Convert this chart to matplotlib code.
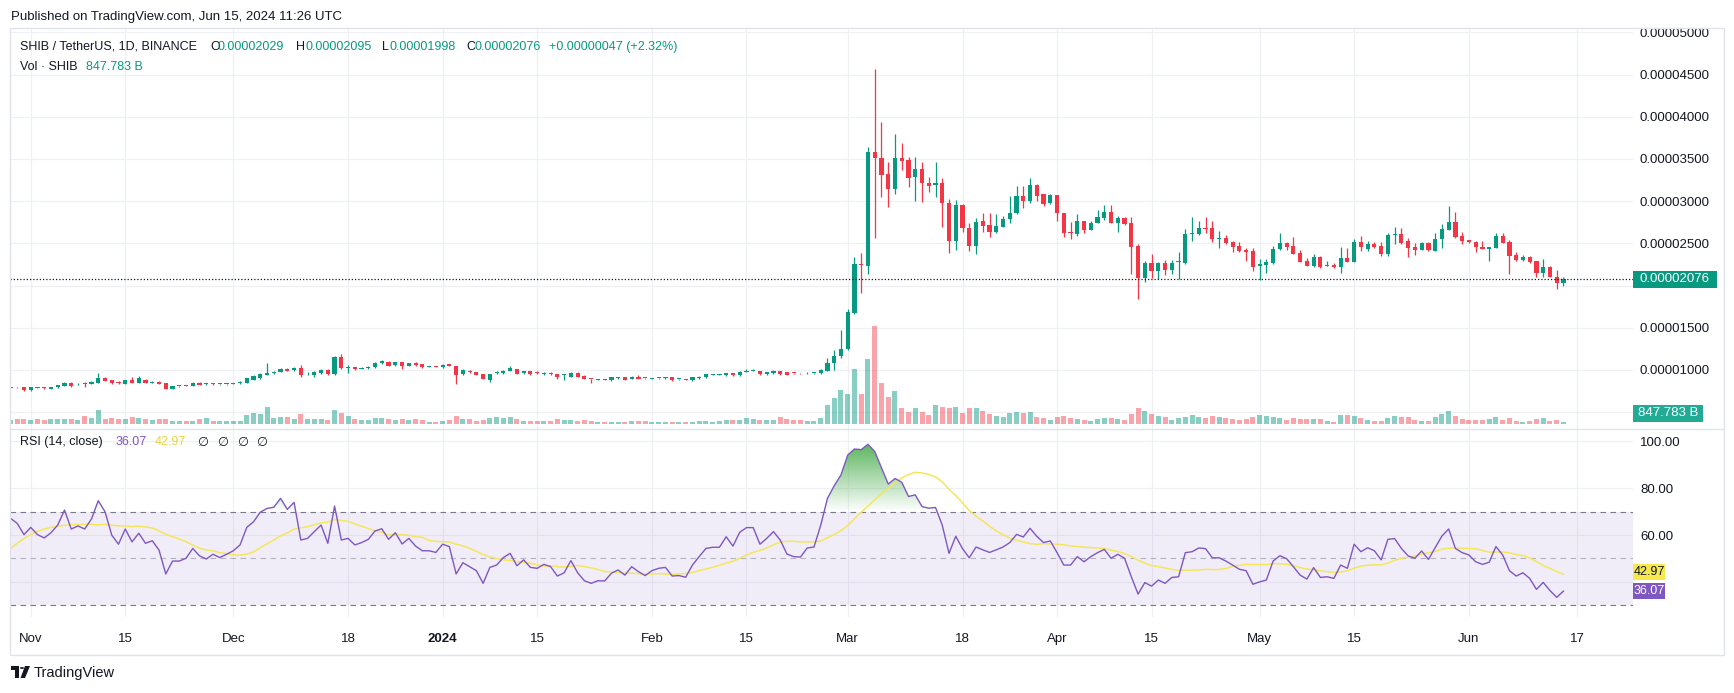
import numpy as np
import pandas as pd
import matplotlib
matplotlib.use("Agg")
import matplotlib.pyplot as plt
import matplotlib.dates as mdates
import matplotlib.transforms as mtransforms
from matplotlib.path import Path
from matplotlib.patches import PathPatch, Rectangle, Circle, Polygon
from matplotlib.lines import Line2D

plt.rcParams['font.family'] = ['Liberation Sans', 'DejaVu Sans']

# ---------------- data ----------------
published_text = "Published on TradingView.com, Jun 15, 2024 11:26 UTC"
symbol_text = "SHIB / TetherUS, 1D, BINANCE"
volume_title = "Vol \u00b7 SHIB"
rsi_title = "RSI (14, close)"
first_day = "2023-10-29"
price_unit = 1e-6          # prices below are in units of 0.000001 USDT

open_e6 = [
    7.90, 7.94, 7.92, 7.62, 7.94, 7.88, 7.76, 7.94, 8.15, 8.49,
    8.28, 8.40, 8.33, 8.45, 9.05, 8.81, 8.49, 8.33, 8.81, 8.49,
    8.81, 8.49, 8.61, 8.41, 7.78, 8.08, 8.10, 8.13, 8.49, 8.30,
    8.31, 8.29, 8.31, 8.37, 8.41, 8.49, 8.81, 9.00, 9.42, 9.65,
    9.77, 10.16, 9.96, 10.19, 9.58, 9.42, 9.61, 10.00, 9.49, 11.48,
    10.25, 10.31, 10.16, 10.19, 10.31, 10.78, 10.97, 10.54, 10.89, 10.47,
    10.86, 10.66, 10.37, 10.40, 10.31, 10.70, 10.47, 9.49, 9.92, 9.73,
    9.53, 8.83, 9.65, 9.61, 9.92, 10.12, 9.61, 9.88, 9.63, 9.49,
    9.69, 9.53, 9.40, 9.22, 9.69, 9.30, 8.93, 8.81, 8.85, 8.75,
    9.01, 9.11, 8.91, 9.22, 9.05, 8.93, 9.01, 9.01, 9.11, 8.89,
    8.85, 8.75, 9.01, 9.11, 9.40, 9.40, 9.34, 9.61, 9.34, 9.79,
    9.86, 9.88, 9.49, 9.61, 9.88, 9.73, 9.65, 9.62, 9.58, 9.60,
    9.60, 9.91, 10.78, 11.64, 12.43, 16.70, 22.54, 22.31, 35.78, 35.06,
    33.21, 31.39, 35.14, 34.87, 32.81, 33.80, 32.18, 31.90, 32.18, 29.81,
    25.31, 29.53, 26.77, 24.68, 27.64, 27.17, 26.38, 26.97, 27.88, 28.55,
    30.60, 30.05, 31.90, 30.80, 29.73, 30.72, 28.55, 26.38, 26.10, 27.60,
    26.62, 27.37, 28.04, 28.67, 27.37, 27.96, 27.44, 24.68, 20.93, 22.63,
    21.76, 22.63, 21.84, 22.74, 22.63, 26.10, 26.10, 26.85, 26.85, 25.55,
    25.59, 25.19, 24.68, 24.21, 24.09, 22.31, 22.43, 22.63, 24.29, 25.08,
    24.68, 23.81, 22.94, 22.31, 23.42, 22.35, 22.43, 22.15, 23.22, 22.82,
    25.19, 24.32, 24.92, 24.72, 23.73, 25.98, 26.10, 25.27, 24.60, 24.21,
    25.08, 24.13, 25.47, 26.58, 27.48, 25.87, 25.39, 25.19, 24.60, 24.29,
    24.48, 25.87, 25.19, 23.61, 23.02, 23.42, 22.90, 21.52, 22.15, 21.05, 20.29,
]
high_e6 = [
    7.98, 8.00, 7.98, 8.00, 8.02, 7.95, 7.98, 8.25, 8.55, 8.52,
    8.40, 8.61, 8.66, 9.67, 9.15, 8.85, 8.70, 8.85, 9.20, 9.28,
    8.90, 8.70, 8.66, 8.45, 8.15, 8.15, 8.16, 8.53, 8.55, 8.42,
    8.40, 8.38, 8.36, 8.45, 8.66, 9.05, 9.35, 9.60, 10.78, 9.85,
    10.20, 10.25, 10.35, 10.58, 9.80, 9.85, 10.05, 10.05, 11.60, 11.87,
    10.58, 10.35, 10.30, 10.45, 10.90, 11.15, 11.00, 10.97, 10.93, 10.86,
    10.89, 10.70, 10.45, 10.43, 10.70, 10.74, 10.50, 10.05, 9.96, 9.77,
    9.57, 9.57, 9.85, 9.96, 10.47, 10.16, 9.92, 9.92, 9.92, 9.73,
    9.73, 9.57, 9.49, 9.73, 9.73, 9.34, 8.95, 8.90, 8.89, 9.15,
    9.15, 9.15, 9.26, 9.42, 9.08, 9.01, 9.08, 9.11, 9.15, 8.97,
    8.89, 9.15, 9.26, 9.53, 9.53, 9.53, 9.65, 9.65, 9.85, 10.08,
    10.08, 9.92, 9.77, 9.96, 9.92, 9.77, 9.69, 9.65, 9.70, 9.68,
    10.05, 11.37, 12.36, 14.72, 17.17, 23.41, 23.89, 36.37, 45.65, 39.41,
    34.67, 37.95, 36.84, 35.26, 35.18, 34.67, 32.89, 34.67, 32.69, 30.21,
    30.13, 29.60, 27.36, 27.96, 28.55, 28.55, 28.47, 28.27, 30.60, 31.79,
    31.79, 32.69, 32.00, 30.90, 30.80, 30.72, 28.55, 27.56, 28.50, 27.68,
    27.60, 28.95, 29.54, 29.54, 28.24, 28.08, 28.08, 24.92, 22.90, 23.73,
    22.82, 23.02, 23.02, 24.01, 26.69, 28.08, 27.64, 28.08, 27.64, 26.50,
    25.98, 25.31, 25.19, 24.40, 24.48, 23.10, 23.10, 24.68, 26.26, 25.19,
    25.71, 24.21, 23.22, 23.73, 23.49, 22.90, 22.63, 24.60, 24.40, 25.47,
    25.87, 25.27, 25.11, 25.11, 26.18, 26.89, 26.77, 25.59, 25.00, 25.19,
    25.19, 26.26, 27.29, 29.42, 28.75, 26.30, 25.39, 25.31, 25.31, 24.60,
    26.26, 26.26, 25.39, 24.01, 23.61, 23.49, 22.90, 23.10, 22.31, 21.84, 20.95,
]
low_e6 = [
    7.85, 7.88, 7.55, 7.55, 7.82, 7.76, 7.70, 7.90, 8.05, 7.98,
    8.20, 8.02, 8.28, 8.40, 8.65, 8.35, 8.30, 8.28, 8.45, 8.45,
    8.45, 8.45, 8.28, 7.70, 7.74, 8.02, 8.04, 8.10, 8.18, 8.22,
    8.20, 8.20, 8.27, 8.33, 8.38, 8.45, 8.78, 8.95, 9.38, 9.55,
    9.73, 9.88, 9.92, 9.14, 9.45, 9.14, 9.55, 9.45, 9.45, 10.10,
    9.61, 10.00, 10.10, 10.15, 10.27, 10.74, 10.43, 10.50, 10.08, 10.43,
    10.50, 10.27, 10.32, 10.33, 10.27, 10.43, 8.33, 9.45, 9.69, 9.38,
    8.87, 8.56, 9.50, 9.57, 9.88, 9.49, 9.57, 9.45, 9.49, 9.45,
    9.42, 8.95, 8.75, 9.18, 9.18, 8.87, 8.44, 8.77, 8.77, 8.73,
    8.97, 8.79, 8.87, 8.91, 8.97, 8.89, 8.97, 8.97, 8.71, 8.85,
    8.77, 8.71, 8.97, 9.08, 9.36, 9.36, 9.30, 9.30, 9.30, 9.75,
    9.82, 9.45, 9.45, 9.57, 9.45, 9.38, 9.57, 9.55, 9.55, 9.55,
    9.55, 9.88, 9.99, 11.37, 12.40, 16.60, 19.07, 21.32, 25.59, 30.52,
    29.26, 30.84, 33.68, 31.63, 30.05, 29.93, 31.12, 30.52, 26.97, 23.81,
    24.20, 26.38, 24.12, 23.73, 26.38, 25.78, 26.18, 26.89, 27.44, 28.47,
    29.14, 29.81, 30.05, 29.46, 29.70, 27.68, 25.70, 25.47, 25.90, 26.26,
    26.55, 27.36, 27.76, 27.37, 26.38, 27.20, 21.36, 18.36, 20.45, 20.93,
    20.77, 21.24, 21.36, 20.77, 22.51, 25.27, 25.98, 26.18, 25.19, 24.40,
    24.92, 24.01, 23.93, 22.90, 21.76, 20.65, 21.52, 22.55, 24.21, 24.21,
    23.73, 22.82, 22.31, 22.15, 22.03, 22.31, 22.03, 21.52, 22.82, 22.82,
    24.13, 24.13, 24.40, 23.54, 23.54, 24.92, 24.92, 23.42, 23.61, 24.21,
    24.13, 24.13, 24.40, 26.58, 25.59, 24.92, 24.99, 24.01, 24.29, 22.90,
    24.48, 24.99, 21.36, 22.90, 22.94, 22.71, 21.05, 21.05, 20.97, 19.59, 19.98,
]
close_e6 = [
    7.94, 7.92, 7.62, 7.94, 7.88, 7.82, 7.94, 8.21, 8.49, 8.05,
    8.33, 8.33, 8.61, 9.08, 8.73, 8.41, 8.45, 8.81, 8.49, 9.00,
    8.49, 8.61, 8.33, 7.78, 8.10, 8.10, 8.08, 8.49, 8.21, 8.33,
    8.29, 8.30, 8.33, 8.41, 8.61, 9.00, 9.28, 9.48, 9.69, 9.73,
    10.12, 9.92, 10.27, 9.42, 9.65, 9.81, 10.00, 9.49, 11.56, 10.19,
    10.31, 10.08, 10.20, 10.39, 10.86, 11.09, 10.47, 10.93, 10.47, 10.82,
    10.54, 10.31, 10.40, 10.37, 10.62, 10.47, 9.42, 10.00, 9.73, 9.42,
    8.91, 9.53, 9.69, 9.92, 10.19, 9.53, 9.88, 9.49, 9.59, 9.69,
    9.46, 9.11, 9.44, 9.69, 9.22, 8.91, 8.89, 8.85, 8.81, 9.11,
    9.05, 8.83, 9.22, 8.95, 9.01, 8.97, 9.05, 9.05, 8.75, 8.93,
    8.81, 9.11, 9.22, 9.49, 9.44, 9.44, 9.61, 9.34, 9.81, 9.83,
    9.90, 9.49, 9.73, 9.92, 9.49, 9.42, 9.61, 9.58, 9.65, 9.64,
    9.99, 10.78, 11.64, 12.43, 16.82, 22.54, 22.40, 35.78, 35.06, 33.09,
    31.39, 35.06, 34.79, 32.77, 33.80, 32.10, 31.83, 32.10, 29.81, 25.31,
    29.53, 26.77, 24.68, 27.56, 27.09, 26.38, 27.05, 27.88, 28.55, 30.60,
    30.05, 31.90, 30.64, 29.65, 30.72, 28.55, 26.26, 26.20, 27.60, 26.62,
    27.40, 28.10, 28.67, 27.37, 27.96, 27.29, 24.60, 20.93, 22.63, 21.76,
    22.63, 21.84, 22.63, 22.90, 26.06, 26.26, 26.77, 26.66, 25.51, 25.59,
    25.00, 24.60, 24.09, 24.01, 22.15, 22.55, 22.82, 24.29, 25.08, 24.52,
    23.73, 22.82, 22.31, 23.34, 22.15, 22.43, 22.15, 23.22, 22.82, 25.19,
    24.52, 24.92, 24.60, 23.73, 25.98, 26.10, 25.08, 24.48, 24.21, 25.08,
    24.21, 25.47, 26.66, 27.48, 25.71, 25.31, 25.11, 24.52, 24.29, 24.60,
    25.87, 25.08, 23.49, 23.02, 23.42, 22.82, 21.52, 22.15, 20.97, 20.29, 20.76,
]
volume_bn = [
    1600, 2000, 2120, 1600, 2120, 1600, 1880, 2120, 2120, 2120,
    1600, 3200, 2400, 5600, 2120, 2400, 2120, 1880, 2680, 2400,
    1880, 1600, 1880, 2120, 1320, 1080, 1320, 1320, 1880, 2400,
    1320, 1320, 1080, 1320, 1320, 3480, 4280, 4000, 6680, 2400,
    2680, 2680, 2000, 4000, 2000, 2000, 2000, 1600, 5600, 4280,
    3200, 1880, 1600, 1600, 2280, 2280, 2000, 1600, 1880, 1600,
    1880, 1600, 800, 800, 1320, 1600, 3200, 1880, 1880, 1080,
    1600, 2400, 2920, 2400, 2680, 1880, 1080, 1320, 1320, 1320,
    1320, 1880, 1600, 1600, 1320, 1600, 1320, 800, 800, 800,
    800, 800, 1200, 1200, 1200, 800, 800, 800, 800, 800,
    800, 800, 1200, 1200, 800, 1200, 1600, 1600, 1600, 2400,
    2000, 1600, 1600, 1600, 2680, 1880, 1440, 1600, 1200, 1200,
    2280, 7600, 10280, 13600, 12000, 22000, 12000, 25880, 39200, 16280,
    10680, 13200, 6280, 4920, 6280, 4680, 3600, 7600, 6680, 6280,
    6680, 4400, 6280, 6280, 5200, 4000, 3200, 2680, 4520, 4920,
    4520, 4800, 2680, 2280, 1600, 2920, 3200, 2400, 2000, 1600,
    1320, 2000, 2400, 2400, 2000, 1600, 4000, 6400, 5320, 4000,
    3200, 2680, 1600, 2400, 2920, 3600, 2920, 2400, 3200, 2920,
    2400, 2000, 1600, 2000, 2920, 3600, 3320, 2920, 2400, 1600,
    2400, 2000, 2000, 2000, 2000, 1320, 800, 3600, 3600, 3200,
    2400, 1600, 1080, 1080, 2400, 3200, 2680, 2680, 1600, 1080,
    1080, 2680, 4000, 5320, 3200, 2000, 1600, 1600, 1600, 2000,
    2680, 1600, 2400, 1320, 800, 1320, 2000, 2400, 1320, 1600, 847.783,
]
rsi_values = [
    67.2, 65.0, 60.2, 63.3, 60.2, 58.8, 61.0, 64.3, 70.7, 62.6,
    63.9, 62.6, 66.9, 74.7, 70.0, 60.0, 56.1, 62.6, 57.1, 60.8,
    56.5, 57.6, 53.6, 43.4, 48.9, 48.9, 50.1, 54.3, 51.1, 49.8,
    51.8, 50.4, 51.8, 53.3, 55.8, 63.3, 65.7, 69.8, 71.4, 71.9,
    75.7, 71.0, 74.0, 57.9, 58.6, 61.5, 64.3, 56.5, 72.4, 57.9,
    58.6, 55.8, 56.8, 58.2, 61.8, 62.7, 58.2, 61.0, 56.2, 58.6,
    55.3, 53.3, 53.3, 52.6, 56.1, 55.1, 43.4, 48.2, 46.5, 44.8,
    39.4, 46.2, 47.2, 50.4, 52.2, 46.9, 49.4, 46.2, 45.8, 47.5,
    46.5, 42.5, 43.9, 49.1, 43.9, 40.5, 39.4, 40.5, 40.4, 43.7,
    45.1, 42.9, 46.5, 44.4, 42.7, 44.8, 45.8, 46.2, 42.5, 42.7,
    42.0, 47.2, 50.8, 54.3, 54.8, 54.8, 59.3, 55.3, 61.2, 63.2,
    63.2, 56.1, 58.6, 61.5, 57.9, 51.9, 50.8, 50.6, 54.5, 54.9,
    64.2, 75.7, 81.1, 85.7, 94.2, 96.8, 96.5, 98.8, 95.7, 88.8,
    81.8, 84.2, 82.6, 76.5, 77.2, 72.2, 71.5, 71.8, 64.2, 52.2,
    59.5, 54.2, 50.3, 54.9, 53.7, 52.6, 53.7, 54.9, 56.8, 60.3,
    59.2, 62.9, 59.5, 56.8, 57.5, 52.5, 47.2, 47.2, 50.8, 48.6,
    50.8, 52.5, 53.9, 50.1, 51.8, 50.1, 42.2, 34.8, 39.7, 38.2,
    40.8, 39.4, 41.9, 42.2, 52.5, 52.9, 54.5, 54.2, 50.3, 50.3,
    48.9, 47.2, 45.4, 44.8, 39.0, 40.0, 40.8, 48.9, 51.2, 49.9,
    46.5, 42.9, 41.2, 46.1, 41.9, 42.2, 41.5, 47.2, 45.8, 56.1,
    52.9, 54.6, 53.3, 49.4, 58.2, 58.5, 54.3, 51.1, 50.1, 53.2,
    49.6, 54.6, 59.6, 62.6, 54.3, 52.5, 51.5, 48.6, 47.5, 48.4,
    55.1, 51.5, 44.8, 42.5, 43.9, 41.5, 36.8, 39.8, 36.3, 33.4, 36.07,
]
# RSI-based MA for the first 13 days (its earlier inputs are off the chart)
rsi_ma_warmup = [54.3, 56.5, 58.5, 60.3, 61.6, 62.6, 63.3, 63.8, 64.2, 64.4, 64.5, 64.6, 64.6]
rsi_ma_last = 42.97
rsi_period = 14

price_grid_e6 = [5, 10, 15, 20, 25, 30, 35, 40, 45, 50]
price_labels_e6 = [10, 15, 25, 30, 35, 40, 45, 50]      # others are covered by the value boxes
rsi_grid = [40, 60, 80, 100]
rsi_labels = [60, 80, 100]
time_tick_dates = ["2023-11-01", "2023-11-15", "2023-12-01", "2023-12-18", "2024-01-01",
                   "2024-01-15", "2024-02-01", "2024-02-15", "2024-03-01", "2024-03-18",
                   "2024-04-01", "2024-04-15", "2024-05-01", "2024-05-15", "2024-06-01",
                   "2024-06-17"]
time_tick_labels = ["Nov", "15", "Dec", "18", "2024", "15", "Feb", "15", "Mar", "18",
                    "Apr", "15", "May", "15", "Jun", "17"]

# ---------------- styling ----------------
UP = '#089981'
DOWN = '#F23645'
GRID = '#EEF0F4'
TXT = '#131722'
RSI_C = '#7E57C2'
MA_C = '#F5E65A'

W, H = 1734, 693
def fx(px):
    return px / W
def fy(py):
    return 1 - py / H

L_PX, R_PX = 10, 1633
P_TOP, P_BOT, R_BOT = 28, 429, 617

n = min(len(open_e6), len(high_e6), len(low_e6), len(close_e6), len(volume_bn), len(rsi_values))
dates = pd.date_range(first_day, periods=n, freq="D")
x = mdates.date2num(dates.to_pydatetime())
o = np.array(open_e6[:n]) * price_unit
h = np.array(high_e6[:n]) * price_unit
lo = np.array(low_e6[:n]) * price_unit
c = np.array(close_e6[:n]) * price_unit
vol = np.array(volume_bn[:n], dtype=float)
rsi = np.array(rsi_values[:n], dtype=float)
rsi_ma = pd.Series(rsi).rolling(rsi_period).mean().to_numpy()
k = min(len(rsi_ma_warmup), n)
rsi_ma[:k] = rsi_ma_warmup[:k]

up = c >= o
cols = np.where(up, UP, DOWN)
vcols = [(8/255, 153/255, 129/255, 0.48) if u else (242/255, 54/255, 69/255, 0.45) for u in up]

ref = mdates.date2num(pd.Timestamp("2023-11-01").to_pydatetime())
xlim = (ref - 3.07, ref + 237.3)
tick_x = mdates.date2num(pd.to_datetime(time_tick_dates).to_pydatetime())

fig = plt.figure(figsize=(W / 100, H / 100), dpi=100)
fig.patch.set_facecolor('white')

ax_vol = fig.add_axes([fx(L_PX), fy(P_BOT), fx(R_PX - L_PX), (P_BOT - P_TOP) / H])
ax_p = fig.add_axes([fx(L_PX), fy(P_BOT), fx(R_PX - L_PX), (P_BOT - P_TOP) / H], sharex=ax_vol)
ax_r = fig.add_axes([fx(L_PX), fy(R_BOT), fx(R_PX - L_PX), (R_BOT - P_BOT) / H], sharex=ax_vol)
for ax in (ax_vol, ax_p, ax_r):
    for s in ax.spines.values():
        s.set_visible(False)
ax_p.patch.set_alpha(0)
ax_r.patch.set_alpha(0)

# price / volume scales
ax_p.set_ylim(3.0e-6, 50.51e-6)
px_per_bn = 400.0
ax_vol.set_ylim(-5 * px_per_bn, (424 - P_TOP) * px_per_bn)

# grid lines
price_grid = np.array(price_grid_e6) * price_unit
blend = mtransforms.blended_transform_factory(ax_vol.transAxes, ax_p.transData)
for p in price_grid:
    ax_vol.add_line(Line2D([0, 1], [p, p], transform=blend, color=GRID, lw=0.9, zorder=0))
for t in tick_x:
    ax_vol.axvline(t, color=GRID, lw=0.9, zorder=0)
    ax_r.axvline(t, color=GRID, lw=0.9, zorder=0)
for r in rsi_grid:
    ax_r.axhline(r, color=GRID, lw=0.9, zorder=0)

# volume
ax_vol.bar(x, vol, width=0.74, color=vcols, linewidth=0, zorder=1)

# candles
ax_p.vlines(x, lo, h, colors=cols, lw=0.9, zorder=3)
body_lo = np.minimum(o, c)
body_h = np.maximum(np.abs(c - o), 0.11e-6)
ax_p.bar(x, body_h, bottom=body_lo, width=0.62, color=cols, linewidth=0, zorder=4)
ax_p.axhline(c[-1], color=TXT, lw=0.9, ls=(0, (1, 1.6)), zorder=5)

# RSI pane
ax_r.set_ylim(25.0, 105.34)
ax_r.axhspan(30, 70, color=RSI_C, alpha=0.1, lw=0, zorder=0)
ax_r.axhline(70, color='#787B86', lw=0.8, ls=(0, (5, 4)), zorder=1)
ax_r.axhline(50, color='#787B86', lw=0.8, ls=(0, (5, 4)), alpha=0.5, zorder=1)
ax_r.axhline(30, color='#787B86', lw=0.8, ls=(0, (5, 4)), zorder=1)

fb = ax_r.fill_between(x, rsi, 70, where=rsi >= 70, interpolate=True,
                       facecolor='none', edgecolor='none', lw=0)
paths = [pp for pp in fb.get_paths() if len(pp.vertices) > 2]
if paths:
    clip_path = Path.make_compound_path(*paths)
    clip_patch = PathPatch(clip_path, transform=ax_r.transData, facecolor='none', edgecolor='none')
    ax_r.add_patch(clip_patch)
    grad = np.zeros((256, 2, 4))
    grad[..., 0] = 76 / 255
    grad[..., 1] = 175 / 255
    grad[..., 2] = 80 / 255
    grad[..., 3] = np.linspace(0.0, 0.95, 256)[:, None]
    im = ax_r.imshow(grad, extent=(x[0], x[-1], 70, 100), origin='lower', aspect='auto',
                     zorder=1.5, interpolation='bilinear')
    im.set_clip_path(clip_patch)

ax_r.plot(x, rsi_ma, color=MA_C, lw=1.1, zorder=2)
ax_r.plot(x, rsi, color=RSI_C, lw=1.0, zorder=3)
ax_r.set_ylim(25.0, 105.34)

# axes ticks
ax_vol.set_yticks([])
ax_vol.tick_params(axis='x', bottom=False, labelbottom=False)
ax_p.tick_params(axis='x', bottom=False, labelbottom=False)
ax_p.yaxis.tick_right()
price_labels = np.array(price_labels_e6) * price_unit
ax_p.set_yticks(price_labels)
ax_p.set_yticklabels([f"{p:.8f}" for p in price_labels])
ax_p.tick_params(axis='y', length=0, pad=5, labelsize=9.5, labelcolor=TXT)
ax_r.yaxis.tick_right()
ax_r.set_yticks(rsi_labels)
ax_r.set_yticklabels([f"{r:.2f}" for r in rsi_labels])
ax_r.tick_params(axis='y', length=0, pad=5, labelsize=9.5, labelcolor=TXT)
ax_r.set_xticks(tick_x)
ax_r.set_xticklabels(time_tick_labels)
ax_r.tick_params(axis='x', length=0, pad=11.5, labelsize=9.5, labelcolor=TXT)
for lab in ax_r.get_xticklabels():
    if lab.get_text() == "2024":
        lab.set_fontweight('bold')
ax_vol.set_xlim(*xlim)

# frame and separators
fig.add_artist(Rectangle((fx(10), fy(655)), fx(1714), (655 - 28) / H, fill=False,
                         ec='#E0E3EB', lw=1, transform=fig.transFigure))
fig.add_artist(Line2D([fx(10), fx(1724)], [fy(P_BOT), fy(P_BOT)], color='#E0E3EB', lw=1,
                      transform=fig.transFigure))

# header & legends
fig.text(fx(11), fy(16.7), published_text, fontsize=9.5, color=TXT, va='center', ha='left')
ly = fy(46.7)
fig.text(fx(20), ly, symbol_text, fontsize=9, color=TXT, va='center')
chg = c[-1] - c[-2]
pct = chg / c[-2] * 100
segs = [("O", 210, f"{o[-1]:.8f}", 218), ("H", 296, f"{h[-1]:.8f}", 305),
        ("L", 382, f"{lo[-1]:.8f}", 389), ("C", 466, f"{c[-1]:.8f}", 474)]
for letter, lx, val, vx in segs:
    fig.text(fx(lx), ly, letter, fontsize=9, color=TXT, va='center')
    fig.text(fx(vx), ly, val, fontsize=9, color=UP, va='center')
fig.text(fx(549), ly, f"{'+' if chg >= 0 else ''}{chg:.8f} ({'+' if pct >= 0 else ''}{pct:.2f}%)",
         fontsize=9, color=UP, va='center')
fig.text(fx(20), fy(66.7), volume_title, fontsize=9, color=TXT, va='center')
fig.text(fx(86), fy(66.7), f"{vol[-1]:.3f} B", fontsize=9, color=UP, va='center')

ry = fy(442)
fig.text(fx(20), ry, rsi_title, fontsize=9, color=TXT, va='center')
fig.text(fx(116), ry, f"{rsi[-1]:.2f}", fontsize=9, color=RSI_C, va='center')
fig.text(fx(155), ry, f"{rsi_ma_last:.2f}", fontsize=9, color='#EBD636', va='center')
for ex in [197, 217, 237, 256]:
    fig.text(fx(ex), ry, "\u2205", fontsize=9, color=TXT, va='center',
             family=['DejaVu Sans'])

# right-scale label boxes
def data_y_top(ax, val):
    return H - ax.transData.transform((x[-1], val))[1]

def label_box(ytop, text, fc, tc, width, hgt=17, size=9.5):
    fig.add_artist(Rectangle((fx(R_PX), fy(ytop + hgt / 2)), fx(width), hgt / H,
                             fc=fc, ec='none', transform=fig.transFigure, zorder=10))
    fig.text(fx(R_PX + width / 2), fy(ytop), text, fontsize=size, color=tc,
             ha='center', va='center', zorder=11)

label_box(data_y_top(ax_p, c[-1]), f"{c[-1]:.8f}", UP, 'white', 84)
label_box(413, f"{vol[-1]:.3f} B", '#22AB94', 'white', 70)
y_ma = data_y_top(ax_r, rsi_ma_last)
y_rsi = data_y_top(ax_r, rsi[-1])
if y_rsi - y_ma < 19:
    y_ma = y_rsi - 19
label_box(y_ma, f"{rsi_ma_last:.2f}", '#F7E84B', TXT, 32, 16, 9)
label_box(y_rsi, f"{rsi[-1]:.2f}", RSI_C, 'white', 32, 16, 9)

# TradingView logo
fig.add_artist(Polygon([(fx(11), fy(666)), (fx(19), fy(666)), (fx(19), fy(678)),
                        (fx(15), fy(678)), (fx(15), fy(670)), (fx(11), fy(670))],
                       closed=True, fc=TXT, ec='none', transform=fig.transFigure))
fig.add_artist(Circle((fx(22), fy(668)), 2.2 / W, fc=TXT, ec='none', transform=fig.transFigure))
fig.add_artist(Polygon([(fx(25), fy(666)), (fx(30), fy(666)), (fx(25), fy(678)),
                        (fx(20.5), fy(678))], closed=True, fc=TXT, ec='none',
                       transform=fig.transFigure))
fig.text(fx(34), fy(672.5), "TradingView", fontsize=10.5, color=TXT, va='center')

fig.savefig("out.png", dpi=100, facecolor='white')
